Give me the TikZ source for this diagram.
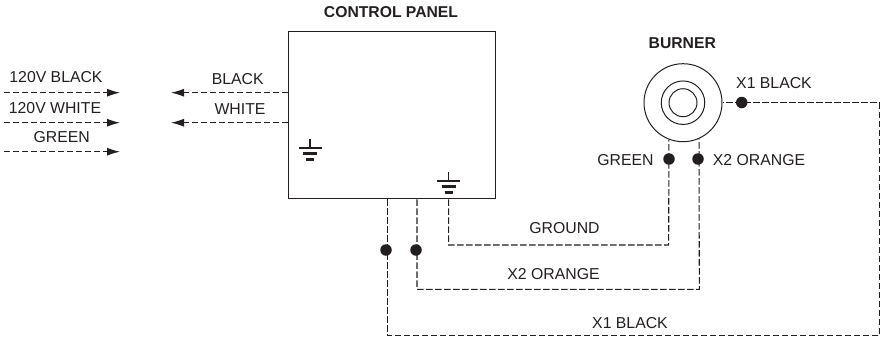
\documentclass[tikz,border=0pt]{standalone}
\usepackage{fontspec}
\setmainfont{Liberation Sans}
\usetikzlibrary{arrows.meta,calc}
\definecolor{ink}{HTML}{231F20}
\tikzset{
  wire/.style={draw=ink,line width=1.05pt,dash pattern=on 6.4pt off 2.6pt},
  arrowwire/.style={wire,-{Latex[length=13pt,width=8pt,sep=0pt]}},
  box/.style={draw=ink,line width=1.3pt,rectangle,minimum width=206.5pt,minimum height=167.5pt,inner sep=0pt},
  ring/.style={draw=ink,line width=1pt,circle,inner sep=0pt},
  dot/.style={fill=ink,circle,inner sep=0pt,minimum size=11.5pt},
  lbl/.style={font=\fontsize{15.8}{18}\selectfont,text=ink,inner sep=0pt},
  title/.style={font=\fontsize{15.7}{18}\selectfont\bfseries,text=ink,inner sep=0pt},
  gnd/.pic={
    \draw[ink,line width=1.6pt] (0,0) -- (0,9);
    \draw[ink,line width=2.5pt] (-11.5,9) -- (11.5,9);
    \draw[ink,line width=2.5pt] (-7,14.5) -- (7,14.5);
    \draw[ink,line width=3pt] (-4,20) -- (4,20);
  }
}
\begin{document}
\begin{tikzpicture}[x=1pt,y=-1pt]
\useasboundingbox (0,0) rectangle (886,338);
% main shapes
\node[box] (panel) at (392,115) {};
\node[ring,minimum size=78pt] (burner) at (683,102.7) {};
\node[ring,minimum size=43.5pt] (burnerM) at (683,102.7) {};
\node[ring,minimum size=28pt] (burnerI) at (683,102.7) {};
% titles
\node[title] (tPanel) at (391,12.5) {CONTROL PANEL};
\node[title] (tBurner) at (682.3,43.3) {BURNER};
% left supply wires
\coordinate (a1s) at (4,92.7);  \coordinate (a1e) at (120,92.7);
\coordinate (a2s) at (4,122.7); \coordinate (a2e) at (120,122.7);
\coordinate (a3s) at (4,151.7); \coordinate (a3e) at (120,151.7);
\draw[arrowwire] (a1s) -- (a1e);
\draw[arrowwire] (a2s) -- (a2e);
\draw[arrowwire] (a3s) -- (a3e);
\node[lbl] (l1) at (56,77.5) {120V BLACK};
\node[lbl] (l2) at (55,108) {120V WHITE};
\node[lbl] (l3) at (61.7,137) {GREEN};
% panel outputs
\coordinate (b1e) at (171,92.7);
\coordinate (b2e) at (171,122.7);
\draw[arrowwire] (panel.west |- b1e) -- (b1e);
\draw[arrowwire] (panel.west |- b2e) -- (b2e);
\node[lbl] (l4) at (237.7,79) {BLACK};
\node[lbl] (l5) at (240,109) {WHITE};
% grounds
\pic at (310,139) {gnd};
\pic at (448.5,172) {gnd};
% junction dots
\node[dot] (dX1) at (741.7,102.5) {};
\node[dot] (dG) at (669,159) {};
\node[dot] (dX2) at (698,159) {};
\node[dot] (dPa) at (386,250) {};
\node[dot] (dPb) at (416,250) {};
% wires
\coordinate (gc) at (668.7,245);
\coordinate (gp) at (448.7,245);
\coordinate (xc) at (699.3,289.3);
\coordinate (xp) at (417,289.3);
\coordinate (kc) at (879.3,102.7);
\coordinate (kd) at (879.3,335.7);
\coordinate (kp) at (387.3,335.7);
\draw[wire] (gp |- panel.south) -- (gp) -- (gc) -- (burner.249);
\draw[wire] (xp |- panel.south) -- (xp) -- (xc) -- (burner.294);
\draw[wire] (kp |- panel.south) -- (kp) -- (kd) -- (kc) -- (burner.east);
% wire labels
\node[lbl] (l6) at (774,83.5) {X1 BLACK};
\node[lbl] (l7) at (625.5,160) {GREEN};
\node[lbl] (l8) at (759,160) {X2 ORANGE};
\node[lbl] (l9) at (564.5,228) {GROUND};
\node[lbl] (l10) at (553.5,274) {X2 ORANGE};
\node[lbl] (l11) at (630,323) {X1 BLACK};
\end{tikzpicture}
\end{document}
